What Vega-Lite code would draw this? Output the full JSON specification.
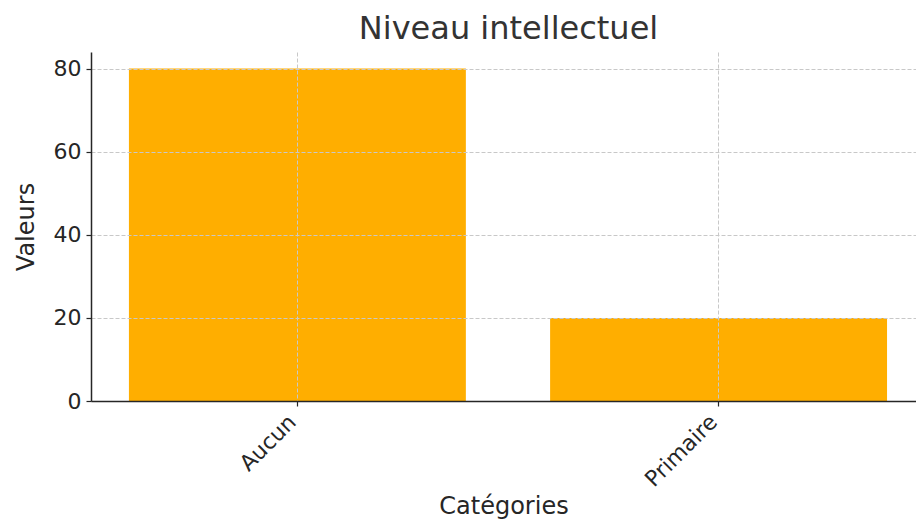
{
  "$schema": "https://vega.github.io/schema/vega-lite/v6.json",
  "autosize": "none",
  "width": 825,
  "height": 349,
  "padding": {"left": 91, "top": 52, "right": 0, "bottom": 118},
  "background": "white",
  "title": {
    "text": "Niveau intellectuel",
    "font": "DejaVu Sans",
    "fontSize": 32,
    "fontWeight": "normal",
    "color": "#333333",
    "anchor": "middle",
    "dx": 5,
    "offset": 6
  },
  "data": {
    "values": [
      {"categorie": "Aucun", "valeur": 80},
      {"categorie": "Primaire", "valeur": 20}
    ]
  },
  "mark": {"type": "bar", "color": "#ffae00"},
  "encoding": {
    "x": {
      "field": "categorie",
      "type": "nominal",
      "sort": null,
      "scale": {"paddingInner": 0.2, "paddingOuter": 0.0794, "align": 0.567},
      "axis": {
        "title": "Catégories",
        "labelAngle": -45,
        "labelAlign": "right",
        "labelBaseline": "top",
        "labelPadding": 5,
        "labelOffset": -12,
        "titlePadding": 4,
        "grid": true,
        "gridDash": [4, 2],
        "gridColor": "#c8c8c8",
        "gridWidth": 1,
        "zindex": 1
      }
    },
    "y": {
      "field": "valeur",
      "type": "quantitative",
      "scale": {"domain": [0, 84], "nice": false},
      "axis": {
        "title": "Valeurs",
        "values": [0, 20, 40, 60, 80],
        "titlePadding": 15,
        "labelPadding": 5,
        "grid": true,
        "gridDash": [4, 2],
        "gridColor": "#c8c8c8",
        "gridWidth": 1,
        "zindex": 1
      }
    }
  },
  "config": {
    "view": {"stroke": null},
    "axis": {
      "labelFont": "DejaVu Sans",
      "labelFontSize": 22,
      "labelColor": "#262626",
      "titleFont": "DejaVu Sans",
      "titleFontSize": 24,
      "titleFontWeight": "normal",
      "titleColor": "#262626",
      "domainColor": "#262626",
      "domainWidth": 1.5,
      "tickColor": "#262626",
      "tickSize": 5,
      "tickWidth": 1.2
    }
  }
}
